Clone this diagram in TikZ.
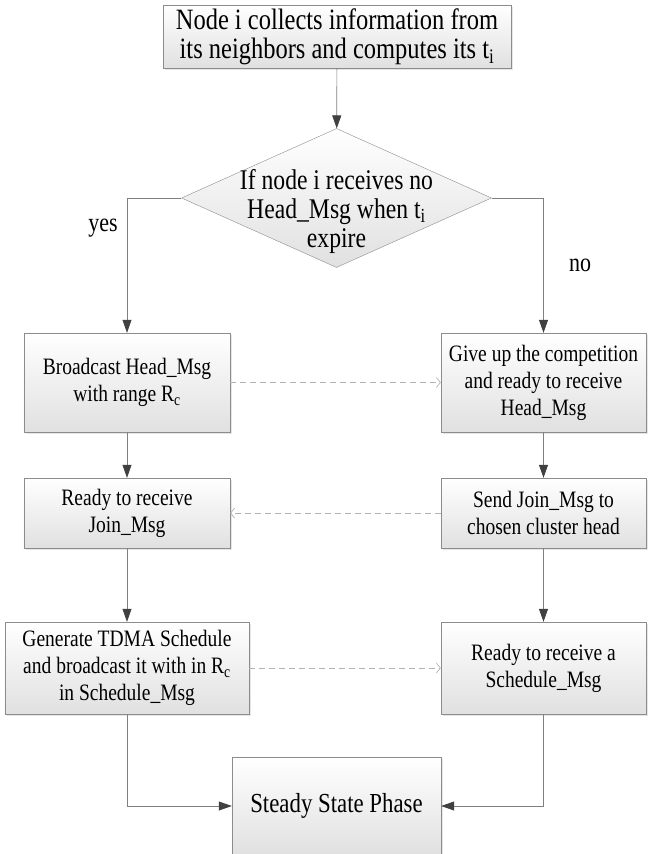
\documentclass[tikz,border=0pt]{standalone}
\usepackage{fontspec}
\setmainfont{Liberation Serif}[FakeStretch=0.83]
\usetikzlibrary{arrows.meta,shapes.geometric,shadows}

\begin{document}
\begin{tikzpicture}[x=1bp,y=-1bp,
    stepbox/.style={rectangle, draw=black!45, top color=white, bottom color=black!12,
      drop shadow={shadow xshift=2bp,shadow yshift=-2bp,opacity=0.2},
      align=center, inner sep=0pt, font=\fontsize{23.5bp}{27bp}\selectfont},
    decision/.style={diamond, draw=black!45, top color=white, bottom color=black!12,
      minimum width=310bp, minimum height=139bp, inner sep=0pt},
    decisiontext/.style={align=center, yshift=-13bp, font=\fontsize{28.5bp}{29bp}\selectfont},
    flow/.style={draw=black!50, line width=0.7bp, -{Triangle[length=13bp,width=9bp,color=black!75]}},
    hint/.style={draw=black!30, line width=0.7bp, dash pattern=on 6bp off 4bp,
      -{Straight Barb[length=4bp,width=10bp]}},
    tag/.style={font=\fontsize{26.5bp}{30bp}\selectfont}]

    \useasboundingbox (0,0) rectangle (648,854);

    % 顶部方框
    \node[stepbox, minimum width=348bp, minimum height=63bp, font=\fontsize{29.5bp}{29bp}\selectfont]
        (start) at (337,36.5) {Node i collects information from\\its neighbors and computes its t\textsubscript{i}};

    % 判断菱形
    \node[decision, label={[decisiontext]center:If node i receives no\\Head\_Msg when t\textsubscript{i}\\expire}]
        (test) at (336.5,198) {};

    % 左列方框
    \node[stepbox, minimum width=206bp, minimum height=99bp] (bcast) at (127,382.5) {Broadcast Head\_Msg\\with range R\textsubscript{c}};
    \node[stepbox, minimum width=206bp, minimum height=70bp] (joinwait) at (127,513) {Ready to receive\\Join\_Msg};
    \node[stepbox, minimum width=244bp, minimum height=92bp] (tdma) at (127,668) {Generate TDMA Schedule\\and broadcast it with in R\textsubscript{c}\\in Schedule\_Msg};

    % 右列方框
    \node[stepbox, minimum width=205bp, minimum height=99bp] (giveup) at (543.5,382.5) {Give up the competition\\and ready to receive\\Head\_Msg};
    \node[stepbox, minimum width=205bp, minimum height=70bp] (sendjoin) at (543.5,513) {Send Join\_Msg to\\chosen cluster head};
    \node[stepbox, minimum width=205bp, minimum height=92bp] (schedwait) at (543.5,668) {Ready to receive a\\Schedule\_Msg};

    % 底部方框
    \node[stepbox, minimum width=209bp, minimum height=98bp, font=\fontsize{27.5bp}{30bp}\selectfont]
        (steady) at (336.5,806) {Steady State Phase};

    % 实线箭头
    \draw[flow] (start) -- (test);
    \draw[flow] (test.west) -| (bcast.north);
    \draw[flow] (test.east) -| (giveup.north);
    \draw[flow] (bcast) -- (joinwait);
    \draw[flow] (joinwait) -- (tdma);
    \draw[flow] (giveup) -- (sendjoin);
    \draw[flow] (sendjoin) -- (schedwait);
    \draw[flow] (tdma) |- (steady);
    \draw[flow] (schedwait) |- (steady);

    % 虚线箭头
    \draw[hint] (bcast) -- (giveup);
    \draw[hint] (sendjoin) -- (joinwait);
    \draw[hint] (tdma) -- (schedwait);

    % 标签
    \node[tag] (yes) at (103,228) {yes};
    \node[tag] (no) at (580,265) {no};

\end{tikzpicture}
\end{document}
